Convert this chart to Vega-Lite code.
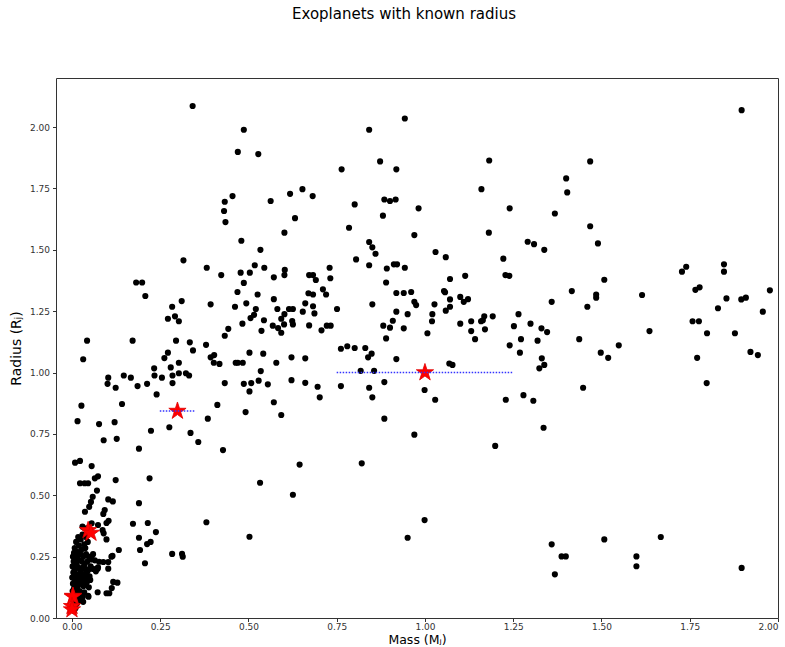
{
  "$schema": "https://vega.github.io/schema/vega-lite/v6.json",
  "autosize": "none",
  "width": 722,
  "height": 540,
  "padding": {"left": 56, "top": 78, "right": 7, "bottom": 29},
  "background": "white",
  "title": {"text": "Exoplanets with known radius", "fontSize": 15, "font": "DejaVu Sans", "fontWeight": "normal", "color": "black", "offset": 56, "dx": -13},
  "config": {
    "view": {"stroke": "#333", "strokeWidth": 1},
    "axis": {"labelFont": "DejaVu Sans", "labelFontSize": 9, "labelColor": "#333", "tickColor": "#333", "tickSize": 3.5, "domain": false, "grid": false, "titleFont": "DejaVu Sans", "titleFontSize": 13, "titleFontWeight": "normal", "titleColor": "black"}
  },
  "datasets": {
    "planets": [
      [0.342,2.086],[0.487,1.989],[0.470,1.899],[0.528,1.890],[0.455,1.719],[0.433,1.696],[0.431,1.658],[0.435,1.613],[0.618,1.728],[0.563,1.699],[0.632,1.629],[0.602,1.570],[0.480,1.537],[0.534,1.500],[0.316,1.457],[0.382,1.427],[0.423,1.397],[0.478,1.407],[0.504,1.407],[0.518,1.437],[0.545,1.427],[0.572,1.388],[0.603,1.418],[0.602,1.397],[0.487,1.365],[0.469,1.328],[0.526,1.318],[0.572,1.299],[0.182,1.367],[0.199,1.367],[0.208,1.312],[0.311,1.291],[0.284,1.268],[0.393,1.278],[0.462,1.268],[0.494,1.282],[0.521,1.259],[0.516,1.235],[0.506,1.222],[0.483,1.199],[0.582,1.259],[0.615,1.259],[0.626,1.259],[0.602,1.238],[0.593,1.219],[0.544,1.213],[0.569,1.191],[0.584,1.181],[0.593,1.162],[0.601,1.196],[0.624,1.210],[0.626,1.196],[0.537,1.170],[0.272,1.219],[0.292,1.229],[0.303,1.209],[0.443,1.178],[0.433,1.150],[0.043,1.130],[0.172,1.130],[0.295,1.130],[0.334,1.123],[0.380,1.113],[0.343,1.090],[0.272,1.081],[0.262,1.059],[0.403,1.071],[0.393,1.062],[0.503,1.081],[0.542,1.077],[0.622,1.062],[0.032,1.054],
      [0.943,2.035],[0.842,1.989],[0.764,1.828],[0.873,1.860],[0.919,1.828],[1.182,1.864],[0.653,1.747],[0.682,1.719],[0.801,1.685],[0.885,1.705],[0.901,1.699],[0.917,1.705],[0.982,1.669],[0.881,1.639],[1.160,1.747],[1.240,1.669],[0.785,1.590],[0.970,1.560],[1.181,1.570],[1.291,1.533],[1.309,1.523],[0.842,1.532],[0.851,1.510],[0.860,1.484],[0.805,1.461],[0.842,1.437],[0.892,1.424],[0.912,1.441],[0.921,1.441],[0.943,1.427],[1.030,1.491],[1.059,1.470],[1.222,1.464],[0.890,1.367],[1.071,1.381],[1.114,1.394],[1.228,1.397],[1.239,1.394],[0.672,1.397],[0.683,1.397],[0.691,1.377],[0.730,1.427],[0.732,1.384],[0.711,1.339],[0.720,1.318],[0.670,1.323],[0.683,1.318],[0.661,1.282],[0.683,1.270],[0.654,1.248],[0.687,1.241],[0.751,1.259],[0.851,1.278],[0.919,1.324],[0.940,1.324],[0.961,1.328],[0.970,1.288],[0.975,1.275],[1.027,1.278],[0.919,1.248],[0.951,1.238],[1.054,1.332],[1.057,1.327],[1.071,1.298],[1.071,1.268],[1.059,1.252],[1.100,1.308],[1.110,1.288],[1.122,1.299],[1.021,1.238],[1.020,1.209],[1.007,1.160],[1.100,1.199],[1.131,1.209],[1.131,1.169],[1.142,1.136],[1.159,1.209],[1.168,1.229],[1.164,1.213],[1.170,1.176],[1.192,1.229],[1.265,1.238],[1.252,1.189],[1.299,1.199],[1.319,1.130],[1.272,1.136],[1.240,1.111],[1.269,1.081],[0.672,1.192],[0.707,1.172],[0.722,1.191],[0.733,1.191],[0.882,1.191],[0.901,1.183],[0.909,1.211],[0.940,1.180],[0.890,1.139],[0.762,1.097],[0.780,1.107],[0.801,1.100],[0.831,1.100],[0.849,1.077],[0.839,1.062],[0.661,1.058],[0.919,1.055],
      [1.897,2.069],[1.468,1.860],[1.400,1.791],[1.403,1.734],[1.368,1.648],[1.468,1.596],[1.490,1.526],[1.338,1.500],[1.508,1.378],[1.416,1.332],[1.359,1.288],[1.485,1.318],[1.485,1.305],[1.460,1.268],[1.615,1.316],[1.636,1.169],[1.728,1.411],[1.740,1.431],[1.766,1.337],[1.778,1.347],[1.847,1.441],[1.847,1.411],[1.854,1.302],[1.830,1.262],[1.896,1.298],[1.909,1.305],[1.977,1.335],[1.957,1.248],[1.758,1.209],[1.776,1.209],[1.799,1.160],[1.878,1.160],[1.771,1.060],[1.922,1.084],[1.943,1.071],[1.330,1.180],[1.346,1.165],[1.437,1.136],[1.498,1.081],[1.519,1.060],[1.549,1.111],[1.331,1.058],
      [1.324,1.017],[1.338,1.031],[1.448,0.938],[1.798,0.957],[1.336,0.775],[1.359,0.300],[1.508,0.320],[1.668,0.330],[1.387,0.251],[1.399,0.251],[1.368,0.178],[1.599,0.251],[1.599,0.211],[1.897,0.204],
      [0.818,1.007],[0.856,1.007],[0.661,0.958],[0.696,0.942],[0.702,0.899],[0.762,0.945],[0.842,0.938],[0.851,0.899],[0.885,0.961],[0.885,0.812],[0.970,0.747],[0.999,0.929],[1.029,0.889],[1.069,1.037],[1.078,1.031],[1.229,0.889],[1.279,0.908],[1.307,0.885],[1.199,0.701],[0.645,0.625],[0.821,0.630],[0.999,0.399],[0.951,0.327],
      [0.103,0.979],[0.101,0.954],[0.124,0.938],[0.147,0.988],[0.167,0.979],[0.186,0.945],[0.233,1.017],[0.234,0.988],[0.213,0.954],[0.255,0.979],[0.280,1.021],[0.285,0.988],[0.285,0.957],[0.303,0.997],[0.303,1.040],[0.323,0.997],[0.332,0.988],[0.240,0.911],[0.142,0.872],[0.027,0.865],[0.016,0.802],[0.077,0.790],[0.121,0.798],[0.090,0.724],[0.127,0.730],[0.190,0.690],[0.224,0.763],[0.276,0.777],[0.336,0.754],[0.358,0.717],[0.385,0.812],[0.412,0.868],[0.428,0.684],[0.402,1.040],[0.418,1.035],[0.464,1.040],[0.470,1.040],[0.484,1.040],[0.433,0.957],[0.487,0.954],[0.508,0.957],[0.529,0.967],[0.535,1.006],[0.503,0.923],[0.492,0.839],[0.555,0.952],[0.572,0.879],[0.593,0.827],[0.579,1.040],[0.622,0.969],[0.533,0.551],[0.626,0.502],[0.381,0.390],[0.503,0.331],[0.284,0.261],[0.312,0.261],[0.314,0.250],[0.207,0.223],[0.193,0.277],[0.190,0.327],[0.173,0.384],[0.215,0.387],[0.238,0.350],[0.223,0.310],[0.213,0.301],[0.220,0.569],[0.190,0.468],[0.124,0.562],[0.133,0.277],[0.112,0.250],[0.103,0.228],[0.103,0.201],[0.115,0.253],[0.089,0.228],[0.073,0.201],[0.117,0.147],[0.129,0.144],[0.113,0.122],[0.098,0.101],[0.106,0.101],[0.073,0.105],[0.047,0.087],[0.098,0.387],[0.104,0.396],[0.074,0.379],[0.098,0.320],[0.090,0.345],[0.087,0.358],[0.103,0.483],[0.116,0.475],[0.093,0.440],[0.089,0.424],[0.071,0.519],[0.065,0.569],[0.074,0.577],[0.056,0.619],[0.009,0.633],[0.023,0.640],[0.023,0.549],[0.036,0.549],[0.046,0.549],[0.049,0.453],[0.054,0.473],[0.059,0.494],[0.037,0.433],[0.056,0.386],[0.042,0.365],[0.030,0.372],[0.077,0.229],[0.074,0.206],[0.056,0.239],[0.046,0.090],[0.032,0.066],
      [0.012,0.31],[0.018,0.33],[0.025,0.32],[0.03,0.34],[0.035,0.30],[0.02,0.295],[0.008,0.285],[0.04,0.33],[0.045,0.31],[0.015,0.27],[0.028,0.28],[0.038,0.285],[0.006,0.265],
      [0.003,0.25],[0.01,0.245],[0.017,0.255],[0.024,0.26],[0.032,0.25],[0.04,0.26],[0.048,0.25],[0.055,0.24],[0.005,0.23],[0.012,0.225],[0.02,0.235],[0.028,0.23],[0.036,0.22],[0.044,0.23],[0.06,0.26],[0.065,0.235],
      [0.002,0.21],[0.008,0.2],[0.015,0.21],[0.022,0.2],[0.03,0.205],[0.038,0.2],[0.046,0.195],[0.053,0.21],[0.06,0.2],[0.004,0.185],[0.011,0.18],[0.019,0.175],[0.026,0.185],[0.034,0.175],[0.042,0.18],[0.05,0.17],[0.068,0.19],
      [0.001,0.165],[0.007,0.16],[0.014,0.155],[0.021,0.165],[0.029,0.15],[0.036,0.16],[0.044,0.15],[0.052,0.155],[0.003,0.14],[0.01,0.135],[0.017,0.13],[0.025,0.14],[0.033,0.13],[0.04,0.135],[0.048,0.125],[0.006,0.12],[0.013,0.115],
      [0.002,0.11],[0.009,0.1],[0.016,0.105],[0.022,0.11],[0.028,0.095],[0.035,0.105],[0.004,0.085],[0.012,0.08],[0.019,0.085],[0.026,0.075],[0.008,0.065],[0.015,0.06],[0.021,0.07],[0.03,0.085],[0.004,0.05],[0.01,0.04],[0.006,0.03]
    ],
    "solar": [
      {"name": "Jupiter", "mass": 1.0, "radius": 1.0},
      {"name": "Saturn", "mass": 0.299, "radius": 0.843},
      {"name": "Uranus", "mass": 0.046, "radius": 0.357},
      {"name": "Neptune", "mass": 0.054, "radius": 0.346},
      {"name": "Earth", "mass": 0.00315, "radius": 0.0892},
      {"name": "Venus", "mass": 0.00256, "radius": 0.0866},
      {"name": "Mars", "mass": 0.00034, "radius": 0.0475},
      {"name": "Mercury", "mass": 0.00017, "radius": 0.0342}
    ],
    "errors": [
      {"name": "Jupiter", "lo": 0.75, "hi": 1.25, "radius": 1.0},
      {"name": "Saturn", "lo": 0.249, "hi": 0.349, "radius": 0.843}
    ]
  },
  "layer": [
    {
      "data": {"name": "planets"},
      "transform": [{"calculate": "datum[0]", "as": "mass"}, {"calculate": "datum[1]", "as": "radius"}],
      "mark": {"type": "point", "filled": true, "shape": "circle", "size": 38, "color": "black", "opacity": 1},
      "encoding": {
        "x": {"field": "mass", "type": "quantitative", "scale": {"domain": [-0.045, 2.0], "nice": false, "zero": false},
              "axis": {"values": [0, 0.25, 0.5, 0.75, 1.0, 1.25, 1.5, 1.75, 2.0], "format": ".2f", "title": "Mass (Mⱼ)", "titleFontSize": 12.5, "titlePadding": 2, "labelPadding": 1, "titleBaseline": "top"}},
        "y": {"field": "radius", "type": "quantitative", "scale": {"domain": [0, 2.2], "nice": false, "zero": false},
              "axis": {"values": [0, 0.25, 0.5, 0.75, 1.0, 1.25, 1.5, 1.75, 2.0], "format": ".2f", "title": "Radius (Rⱼ)", "titleFontSize": 14, "titlePadding": 6, "labelPadding": 3}}
      }
    },
    {
      "data": {"name": "solar"},
      "mark": {"type": "point", "filled": true, "shape": "M0,-1L0.2245,-0.309L0.951,-0.309L0.363,0.118L0.588,0.809L0,0.382L-0.588,0.809L-0.363,0.118L-0.951,-0.309L-0.2245,-0.309Z", "size": 330, "fill": "#ff0000", "stroke": "#e00000", "strokeWidth": 0.8, "opacity": 1},
      "encoding": {
        "x": {"field": "mass", "type": "quantitative"},
        "y": {"field": "radius", "type": "quantitative"}
      }
    },
    {
      "data": {"name": "errors"},
      "mark": {"type": "rule", "color": "#3333ff", "strokeWidth": 1.5, "strokeDash": [1.5, 1.5]},
      "encoding": {
        "x": {"field": "lo", "type": "quantitative"},
        "x2": {"field": "hi"},
        "y": {"field": "radius", "type": "quantitative"}
      }
    }
  ]
}
